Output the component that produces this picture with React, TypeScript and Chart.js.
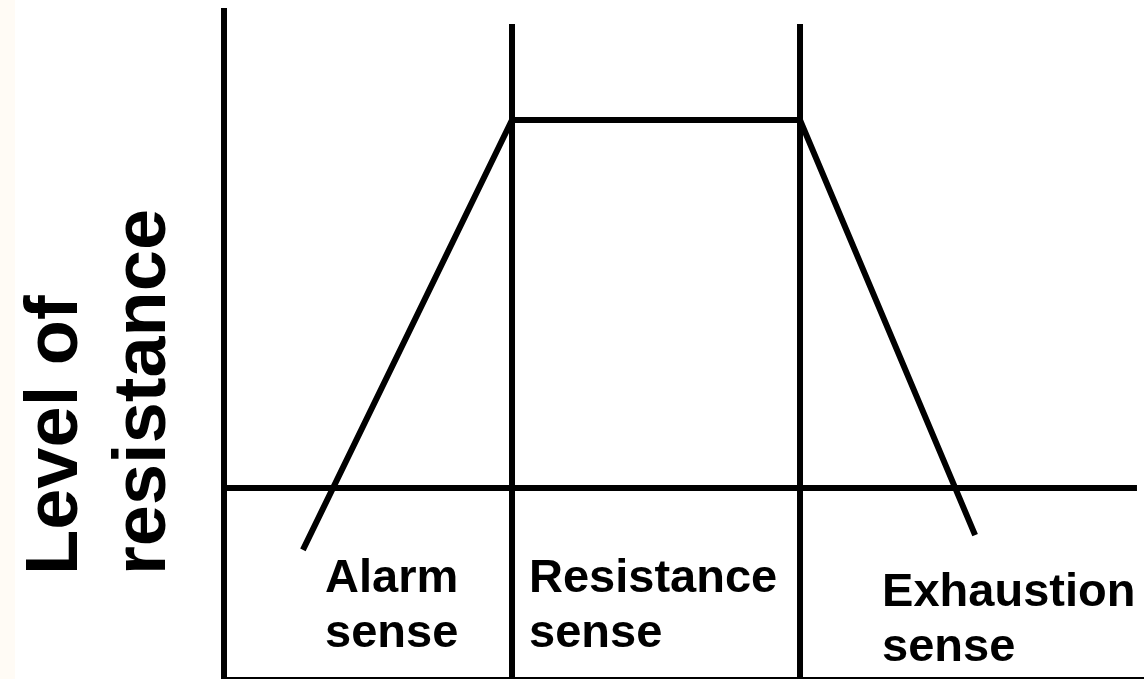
import React, { useEffect, useRef } from "react";
import { Chart, registerables } from "chart.js";

Chart.register(...registerables);

// Time axis in stage units (0 = onset), level axis: 0 = normal level of resistance, 1 = raised plateau
const stageNames: string[][] = [
  ["Alarm", "sense"],
  ["Resistance", "sense"],
  ["Exhaustion", "sense"],
];
const stageBoundaries = [1, 2];
const curveTime = [0.274, 1, 2, 2.608];
const curveLevel = [-0.168, 1, 1, -0.128];
const normalLevel = 0;
const originTime = 0;
const normalLineEndTime = 3.17;
const axisTopLevel = 1.304;
const dividerTopLevel = 1.261;
const floorLevel = -0.522;
const labelTime = [0.351, 1.059, 2.285];
const labelLevel = [-0.283, -0.283, -0.321];
const yTitleLines = ["Level of", "resistance"];

const X_MIN = -0.7778;
const X_MAX = 3.1944;
const Y_MIN = -0.519;
const Y_MAX = 1.326;

const FONT = '"Liberation Sans", Arial, Helvetica, sans-serif';

const textPlugin = {
  id: "stageText",
  afterDatasetsDraw(chart: any) {
    const ctx = chart.ctx as CanvasRenderingContext2D;
    const xs = chart.scales.x;
    const ys = chart.scales.y;
    ctx.save();
    ctx.fillStyle = "#000";
    ctx.textAlign = "left";
    ctx.textBaseline = "alphabetic";
    ctx.font = `bold 47px ${FONT}`;
    stageNames.forEach((lines, i) => {
      const px = xs.getPixelForValue(labelTime[i]);
      const py = ys.getPixelForValue(labelLevel[i]);
      lines.forEach((t, j) => ctx.fillText(t, px, py + j * 55));
    });
    // rotated y title
    ctx.font = `bold 74px ${FONT}`;
    const baseX = [77, 165];
    yTitleLines.forEach((t, j) => {
      ctx.save();
      ctx.translate(baseX[j], 575);
      ctx.rotate(-Math.PI / 2);
      ctx.fillText(t, 0, 0);
      ctx.restore();
    });
    ctx.restore();
  },
};

function seg(data: { x: number; y: number }[]) {
  return {
    data,
    showLine: true,
    pointRadius: 0,
    pointHoverRadius: 0,
    borderColor: "#000",
    backgroundColor: "#000",
    borderWidth: 6,
    borderCapStyle: "butt" as const,
    borderJoinStyle: "miter" as const,
    tension: 0,
    fill: false,
    clip: false as any,
  };
}

export default function App() {
  const ref = useRef<HTMLCanvasElement | null>(null);
  useEffect(() => {
    if (!ref.current) return;
    const datasets = [
      seg(curveTime.map((t, i) => ({ x: t, y: curveLevel[i] }))),
      seg([
        { x: originTime, y: normalLevel },
        { x: normalLineEndTime, y: normalLevel },
      ]),
      seg([
        { x: originTime, y: floorLevel },
        { x: originTime, y: axisTopLevel },
      ]),
      ...stageBoundaries.map((b) =>
        seg([
          { x: b, y: floorLevel },
          { x: b, y: dividerTopLevel },
        ])
      ),
      seg([
        { x: originTime, y: floorLevel },
        { x: X_MAX, y: floorLevel },
      ]),
    ];
    const chart = new Chart(ref.current, {
      type: "scatter",
      data: { datasets },
      options: {
        animation: false,
        responsive: true,
        maintainAspectRatio: false,
        events: [],
        layout: { padding: 0 },
        plugins: {
          legend: { display: false },
          tooltip: { enabled: false },
        },
        scales: {
          x: { type: "linear", display: false, min: X_MIN, max: X_MAX },
          y: { type: "linear", display: false, min: Y_MIN, max: Y_MAX },
        },
      },
      plugins: [textPlugin],
    } as any);
    return () => chart.destroy();
  }, []);
  return (
    <div
      style={{
        position: "fixed",
        left: 0,
        top: 0,
        width: 1144,
        height: 679,
        background: "linear-gradient(to right, #fffbf5 0px, #fffbf5 15px, #ffffff 15px)",
      }}
    >
      <canvas ref={ref} />
    </div>
  );
}
